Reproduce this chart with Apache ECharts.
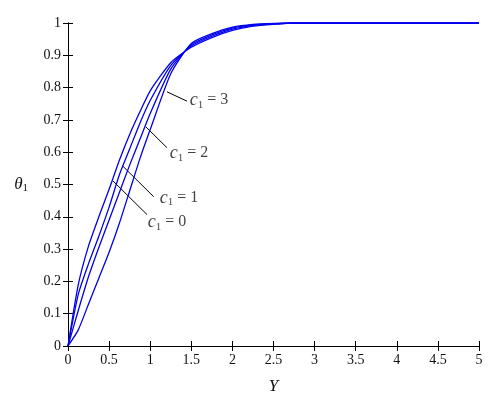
<!DOCTYPE html>
<html><head><meta charset="utf-8">
<script src="https://cdn.jsdelivr.net/npm/echarts@6/dist/echarts.min.js"></script>
<style>html,body{margin:0;padding:0;background:#fff}#c{width:500px;height:411px}</style>
</head><body><div id="c"></div>
<script>
const ys = [0,0.125,0.25,0.375,0.5,0.625,0.75,0.875,1,1.25,1.5,1.75,2,2.25,2.5,2.75,3,3.5,4,4.5,5];
const theta_c0 = [0,0.19,0.31,0.40,0.485,0.575,0.655,0.725,0.79,0.877,0.925,0.955,0.977,0.99,0.996,1,1,1,1,1,1];
const theta_c1 = [0,0.16,0.255,0.34,0.43,0.53,0.61,0.69,0.76,0.868,0.929,0.959,0.981,0.992,0.997,1,1,1,1,1,1];
const theta_c2 = [0,0.11,0.215,0.305,0.39,0.475,0.56,0.64,0.72,0.857,0.933,0.963,0.984,0.994,0.998,1,1,1,1,1,1];
const theta_c3 = [0,0.05,0.13,0.21,0.29,0.38,0.48,0.58,0.67,0.843,0.937,0.967,0.987,0.996,0.999,1,1,1,1,1,1];
const seriesNames = ['c1 = 0','c1 = 1','c1 = 2','c1 = 3'];
const labelValues = ['0','1','2','3'];
// leader lines [start, end] in data units
const leaderLines = [
  [[0.547,0.511],[0.961,0.407]],
  [[0.662,0.558],[1.043,0.462]],
  [[0.945,0.679],[1.204,0.614]],
  [[1.204,0.787],[1.448,0.758]]
];
// label anchor (left edge, vertical middle) in data units
const labelPos = [[0.970,0.383],[1.116,0.458],[1.237,0.597],[1.480,0.761]];

const font = 'Liberation Serif';
const pairs = a => ys.map((y,i)=>[y,a[i]]);
const curves = [theta_c0,theta_c1,theta_c2,theta_c3];
const series = curves.map((c,i)=>({
  type:'line', name:seriesNames[i], data:pairs(c), showSymbol:false, symbol:'none',
  smooth:0.2,
  lineStyle:{color:'#0000ee',width:1.3}, animation:false, z:3
}));
series.push({
  type:'lines', coordinateSystem:'cartesian2d', animation:false, silent:true,
  lineStyle:{color:'#000',width:1,opacity:1},
  data: leaderLines.map(l=>({coords:l}))
});
series.push({
  type:'scatter', symbolSize:0, animation:false, silent:true,
  data: labelPos.map((p,i)=>({value:p, label:{show:true, position:'right', distance:0,
    formatter:'{i|c}{s|1}{n| = '+labelValues[i]+'}'}})),
  label:{rich:{
    i:{fontFamily:font,fontStyle:'italic',fontSize:18,color:'#111'},
    s:{fontFamily:font,fontSize:11,color:'#111',verticalAlign:'bottom',padding:[9,0,0,0]},
    n:{fontFamily:font,fontSize:16,color:'#111'}
  }}
});

const axisCommon = {
  axisLine:{show:true,lineStyle:{color:'#000',width:1}},
  axisTick:{show:true,inside:true,length:5,lineStyle:{color:'#000'}},
  splitLine:{show:false}
};
const chart = echarts.init(document.getElementById('c'),null,{renderer:'canvas'});
chart.setOption({
  animation:false,
  grid:{left:68,right:21,top:23,bottom:65,containLabel:false},
  xAxis:[
    Object.assign({type:'value',min:0,max:5,interval:0.5,position:'bottom',
      name:'{i|Y}',nameLocation:'middle',nameGap:32,
      nameTextStyle:{rich:{i:{fontFamily:font,fontStyle:'italic',fontSize:17,color:'#111'}}},
      axisLabel:{fontFamily:font,fontSize:14,color:'#111',margin:7,formatter:v=>String(v)}},axisCommon),
    Object.assign({type:'value',min:0,max:5,interval:0.5,position:'top',axisLabel:{show:false}},axisCommon)
  ],
  yAxis:[
    Object.assign({type:'value',min:0,max:1,interval:0.1,position:'left',
      name:'{i|θ}{s|1}',nameLocation:'middle',nameGap:40,nameRotate:0,
      nameTextStyle:{rich:{i:{fontFamily:font,fontStyle:'italic',fontSize:17,color:'#111'},
        s:{fontFamily:font,fontSize:11,color:'#111',verticalAlign:'bottom',padding:[8,0,0,0]}}},
      axisLabel:{fontFamily:font,fontSize:14,color:'#111',margin:7,formatter:v=>String(Math.round(v*10)/10)}},axisCommon),
    Object.assign({type:'value',min:0,max:1,interval:0.1,position:'right',axisLabel:{show:false}},axisCommon)
  ],
  series: series
});
</script></body></html>
